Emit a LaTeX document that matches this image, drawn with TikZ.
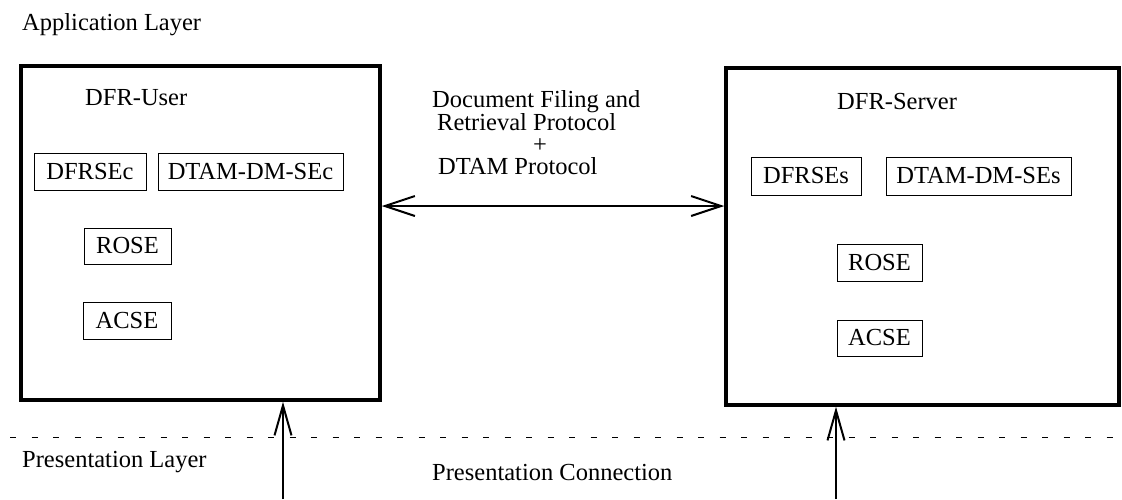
\documentclass[tikz,border=0pt]{standalone}
\usepackage{fontspec}
\setmainfont{Liberation Serif}
\usetikzlibrary{arrows.meta}
\tikzset{
  bigbox/.style={draw, line width=3.5pt, inner sep=0pt},
  smallbox/.style={draw, line width=1pt, inner sep=0pt},
  lbl/.style={inner sep=0pt, anchor=base west},
  conn/.style={line width=2pt, {Straight Barb[length=30pt,width=20pt]}-{Straight Barb[length=30pt,width=20pt]}},
  upconn/.style={line width=2pt, -{Straight Barb[length=30pt,width=17pt]}},
  layerline/.style={line width=1pt, dash pattern=on 6pt off 15.5pt}
}
\begin{document}
\begin{tikzpicture}[x=1pt, y=-1pt, font=\fontsize{24.5}{29}\selectfont]
\useasboundingbox (0,0) rectangle (1122,499);
% layer labels
\node[lbl] (applayer) at (22,30) {Application Layer};
\node[lbl] (preslayer) at (22,467) {Presentation Layer};
\node[lbl] (presconn) at (432,480) {Presentation Connection};
% big boxes
\node[bigbox, minimum width=359pt, minimum height=334pt] (user) at (200.5,233) {};
\node[bigbox, minimum width=393pt, minimum height=337pt] (server) at (922.5,236.5) {};
\node[lbl] (usertitle) at (85,105) {DFR-User};
\node[lbl] (servertitle) at (837,109) {DFR-Server};
% user components
\node[smallbox, minimum width=112pt, minimum height=37pt] (dfrsec) at (90,171.5) {DFRSEc};
\node[smallbox, minimum width=185pt, minimum height=37pt] (dtamc) at (250.5,171.5) {DTAM-DM-SEc};
\node[smallbox, minimum width=87pt, minimum height=36pt] (rosec) at (127.5,246) {ROSE};
\node[smallbox, minimum width=88pt, minimum height=37pt] (acsec) at (127,320.5) {ACSE};
% server components
\node[smallbox, minimum width=110pt, minimum height=38pt] (dfrses) at (806,176) {DFRSEs};
\node[smallbox, minimum width=185pt, minimum height=38pt] (dtams) at (978.5,176) {DTAM-DM-SEs};
\node[smallbox, minimum width=85pt, minimum height=37pt] (roses) at (879.5,262.5) {ROSE};
\node[smallbox, minimum width=85pt, minimum height=36pt] (acses) at (879.5,338) {ACSE};
% protocol labels
\node[lbl] (proto1) at (432,107) {Document Filing and};
\node[lbl] (proto2) at (437,130) {Retrieval Protocol};
\node[lbl] (plus) at (533,152) {+};
\node[lbl] (proto3) at (438,174) {DTAM Protocol};
% connectors
\coordinate (mid) at (553,206);
\draw[conn] (user.east |- mid) -- (server.west |- mid);
\coordinate (ufoot) at (283,499);
\coordinate (sfoot) at (836,499);
\draw[upconn] (ufoot) -- (ufoot |- user.south);
\draw[upconn] (sfoot) -- (sfoot |- server.south);
% layer boundary
\coordinate (dl) at (10,437);
\coordinate (dr) at (1116,437);
\draw[layerline] (dl) -- (dr);
\end{tikzpicture}
\end{document}
